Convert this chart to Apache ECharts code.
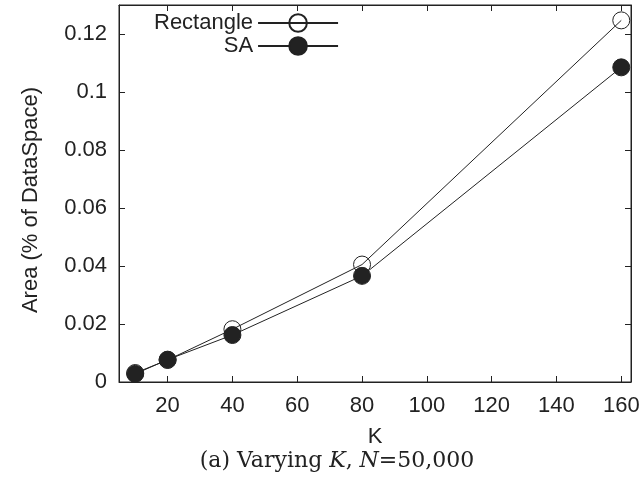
<!DOCTYPE html>
<html><head><meta charset="utf-8">
<script src="https://cdn.jsdelivr.net/npm/echarts@6/dist/echarts.min.js"></script>
<style>html,body{margin:0;padding:0;background:#fff}#c{width:640px;height:483px}</style>
</head><body><div id="c"></div>
<script>
var kValues = [10, 20, 40, 80, 160];
var rectangleArea = [0.0031, 0.0076, 0.0182, 0.0405, 0.1247];
var saArea = [0.0028, 0.0077, 0.0162, 0.0366, 0.1085];
var xTicks = [20, 40, 60, 80, 100, 120, 140, 160];
var yTicks = [0, 0.02, 0.04, 0.06, 0.08, 0.1, 0.12];

var font = 'Liberation Sans, Arial, sans-serif';
var serif = 'DejaVu Serif, Liberation Serif, serif';
var chart = echarts.init(document.getElementById('c'), null, {renderer: 'canvas'});
function pairs(xs, ys){ return xs.map(function(x,i){return [x, ys[i]];}); }
function axisLine(){ return {show: true, onZero: false, lineStyle: {color: '#222', width: 1}}; }
function tick(vals){ return {show: true, inside: true, length: 6, customValues: vals, lineStyle: {color: '#222', width: 1}}; }
function hiddenLabels(vals){ return {show: true, customValues: vals, color: 'rgba(0,0,0,0)', fontSize: 10}; }
chart.setOption({
  animation: false,
  grid: {left: 119, right: 9, top: 5, bottom: 101, containLabel: false, outerBoundsMode: 'none',
    show: true, borderColor: '#222', borderWidth: 1, backgroundColor: 'transparent'},
  xAxis: [{
    type: 'value', gridIndex: 0, min: 5, max: 163, position: 'bottom',
    axisLine: axisLine(), splitLine: {show: false},
    axisTick: tick(xTicks),
    axisLabel: {customValues: xTicks, color: '#222', fontFamily: font, fontSize: 22, margin: 13},
    name: 'K', nameLocation: 'middle', nameGap: 44,
    nameTextStyle: {color: '#222', fontFamily: font, fontSize: 22}
  }, {
    type: 'value', gridIndex: 0, show: true, min: 5, max: 163, position: 'top',
    axisLine: axisLine(), splitLine: {show: false},
    axisTick: tick(xTicks),
    axisLabel: hiddenLabels(xTicks)
  }],
  yAxis: [{
    type: 'value', gridIndex: 0, min: 0, max: 0.13, position: 'left',
    axisLine: axisLine(), splitLine: {show: false},
    axisTick: tick(yTicks),
    axisLabel: {customValues: yTicks, color: '#222', fontFamily: font, fontSize: 22, margin: 12}
  }, {
    type: 'value', gridIndex: 0, show: true, min: 0, max: 0.13, position: 'right',
    axisLine: axisLine(), splitLine: {show: false},
    axisTick: tick(yTicks),
    axisLabel: hiddenLabels(yTicks)
  }],
  legend: {
    orient: 'vertical', left: 149, top: 7, align: 'right',
    itemWidth: 80, itemHeight: 22, itemGap: 1,
    textStyle: {color: '#222', fontFamily: font, fontSize: 22, width: 100, align: 'right'},
    data: ['Rectangle', 'SA']
  },
  graphic: [{
    type: 'text', x: 31, y: 200, rotation: Math.PI / 2,
    style: {text: 'Area (% of DataSpace)', font: '22px ' + font, fill: '#222', align: 'center', verticalAlign: 'middle'}
  }, {
    type: 'text', x: 337, y: 461,
    style: {
      text: '(a) Varying {i|K}, {i|N}=50,000',
      font: '22px ' + serif, fill: '#222', align: 'center', verticalAlign: 'middle',
      rich: {i: {fontStyle: 'italic', fontFamily: serif, fontSize: 22, fill: '#222'}}
    }
  }],
  series: [{
    name: 'Rectangle', type: 'line', xAxisIndex: 0, yAxisIndex: 0, data: pairs(kValues, rectangleArea),
    symbol: 'circle', symbolSize: 17,
    lineStyle: {color: '#222', width: 1},
    itemStyle: {color: 'rgba(255,255,255,0)', borderColor: '#222', borderWidth: 1}
  }, {
    name: 'SA', type: 'line', xAxisIndex: 0, yAxisIndex: 0, data: pairs(kValues, saArea),
    symbol: 'circle', symbolSize: 17,
    lineStyle: {color: '#222', width: 1},
    itemStyle: {color: '#222', borderColor: '#222', borderWidth: 1}
  }, {
    name: 'mirror', type: 'line', xAxisIndex: 1, yAxisIndex: 1, data: [], silent: true,
    symbol: 'none', lineStyle: {width: 0}
  }]
});
</script></body></html>
